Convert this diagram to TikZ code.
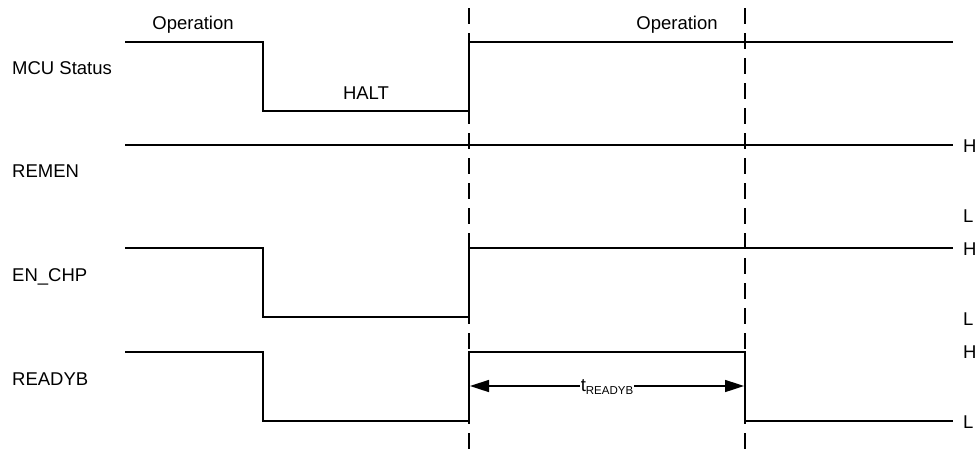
\documentclass[tikz,border=0pt]{standalone}
\usepackage{fontspec}
\setmainfont{Liberation Sans}
\usetikzlibrary{arrows.meta}
\begin{document}
\begin{tikzpicture}[x=1pt,y=-1pt,
  sig/.style={line width=1.6pt},
  dashline/.style={line width=1.6pt,dash pattern=on 16pt off 9pt},
  lbl/.style={font=\fontsize{18.5}{21}\selectfont,inner sep=0pt},
  tiparrow/.style={line width=1.6pt,{Triangle[length=19pt,width=12pt]}-{Triangle[length=19pt,width=12pt]}}]
\useasboundingbox (0,0) rectangle (980,453);
% dashed markers
\coordinate (d1t) at (469,8); \coordinate (d1b) at (469,453);
\coordinate (d2t) at (745,8); \coordinate (d2b) at (745,453);
\draw[dashline] (d1t) -- (d1b);
\draw[dashline] (d2t) -- (d2b);
% MCU status
\draw[sig] (125,42) -- (263,42) -- (263,111) -- (469,111) -- (469,42) -- (953,42);
% REMEN
\draw[sig] (125,145) -- (953,145);
% EN_CHP
\draw[sig] (125,248) -- (263,248) -- (263,317) -- (469,317) -- (469,248) -- (953,248);
% READYB
\draw[sig] (125,352) -- (263,352) -- (263,421) -- (469,421) -- (469,352) -- (745,352) -- (745,421) -- (953,421);
% signal names
\node[lbl,anchor=west] (nmcu) at (12,68) {MCU Status};
\node[lbl,anchor=west] (nrem) at (12,171) {REMEN};
\node[lbl,anchor=west] (nen) at (12,277) {EN\_CHP};
\node[lbl,anchor=west] (nrdy) at (12,379) {READYB};
% state labels
\node[lbl] (op1) at (193,25) {Operation};
\node[lbl] (op2) at (677,25) {Operation};
\node[lbl] (halt) at (366,93) {HALT};
% levels
\node[lbl,anchor=west] (h1) at (963,146) {H};
\node[lbl,anchor=west] (l1) at (963,216) {L};
\node[lbl,anchor=west] (h2) at (963,249) {H};
\node[lbl,anchor=west] (l2) at (963,319) {L};
\node[lbl,anchor=west] (h3) at (963,352) {H};
\node[lbl,anchor=west] (l3) at (963,422) {L};
% t_READYB
\coordinate (ta) at (470,386);
\coordinate (tb) at (744,386);
\draw[tiparrow] (ta) -- (tb);
\node[lbl,fill=white,inner xsep=1pt,inner ysep=2pt] (tr) at (607,387) {t\raisebox{-3pt}{\fontsize{11.5}{13}\selectfont READYB}};
\end{tikzpicture}
\end{document}
